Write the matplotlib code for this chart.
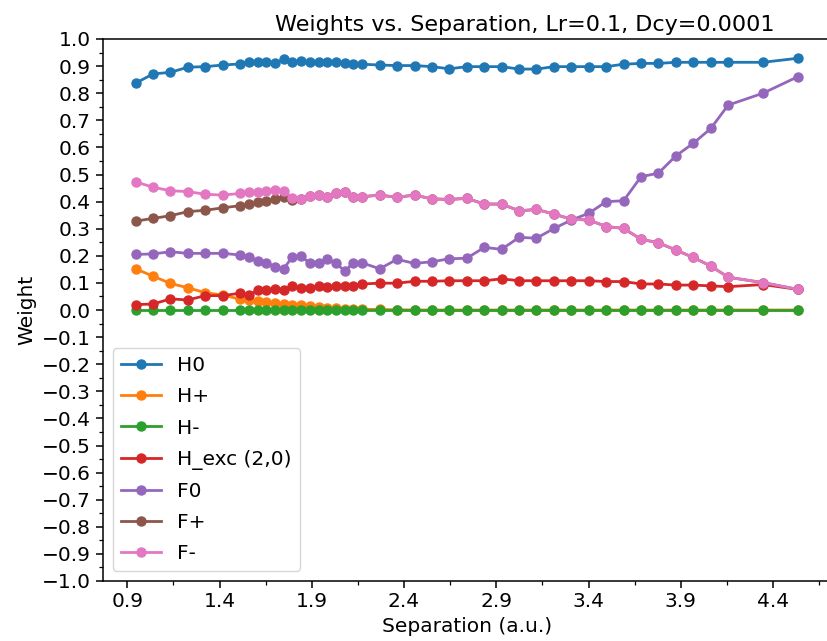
import matplotlib
matplotlib.use("Agg")
import matplotlib.pyplot as plt
from matplotlib.ticker import AutoMinorLocator

# separation in bohr
separation = [0.945, 1.039, 1.134, 1.228, 1.323, 1.417, 1.512,
              1.559, 1.606, 1.654, 1.701, 1.748, 1.795, 1.842, 1.890, 1.937,
              1.984, 2.031, 2.079, 2.126, 2.173,
              2.268, 2.362, 2.457, 2.551, 2.646, 2.740, 2.835, 2.929, 3.024,
              3.118, 3.213, 3.307, 3.402, 3.496, 3.590, 3.685, 3.779, 3.874,
              3.968, 4.063, 4.157, 4.346, 4.535]

w_H0 = [0.837, 0.871, 0.877, 0.896, 0.898, 0.904, 0.908,
        0.916, 0.914, 0.916, 0.910, 0.925, 0.914, 0.920, 0.916, 0.914,
        0.916, 0.914, 0.910, 0.907, 0.907,
        0.904, 0.902, 0.902, 0.898, 0.890, 0.898, 0.898, 0.898, 0.889,
        0.889, 0.898, 0.898, 0.898, 0.898, 0.907, 0.910, 0.910, 0.914,
        0.914, 0.914, 0.914, 0.914, 0.929]

w_Hp = [0.152, 0.125, 0.098, 0.082, 0.064, 0.055, 0.040,
        0.036, 0.032, 0.029, 0.026, 0.023, 0.020, 0.017, 0.014, 0.011,
        0.009, 0.007, 0.005, 0.004, 0.003,
        0.002, 0.001, 0.0, 0.0, 0.0, 0.0, 0.0, 0.0, 0.0,
        0.0, 0.0, 0.0, 0.0, 0.0, 0.0, 0.0, 0.0, 0.0,
        0.0, 0.0, 0.0, 0.0, 0.0]

w_Hm = [0.0] * len(separation)

w_Hexc = [0.020, 0.022, 0.041, 0.037, 0.053, 0.053, 0.062,
          0.055, 0.072, 0.072, 0.078, 0.074, 0.087, 0.080, 0.080, 0.090,
          0.084, 0.087, 0.090, 0.090, 0.096,
          0.099, 0.099, 0.106, 0.106, 0.108, 0.108, 0.108, 0.115, 0.108,
          0.108, 0.108, 0.108, 0.108, 0.105, 0.105, 0.096, 0.096, 0.092,
          0.092, 0.089, 0.086, 0.094, 0.076]

w_F0 = [0.205, 0.207, 0.215, 0.209, 0.209, 0.209, 0.203,
        0.197, 0.180, 0.172, 0.160, 0.152, 0.197, 0.199, 0.172, 0.172,
        0.187, 0.172, 0.144, 0.174, 0.174,
        0.152, 0.187, 0.172, 0.178, 0.189, 0.191, 0.231, 0.224, 0.268,
        0.265, 0.301, 0.332, 0.357, 0.400, 0.403, 0.492, 0.505, 0.569,
        0.615, 0.670, 0.756, 0.800, 0.861]

w_Fp = [0.328, 0.338, 0.348, 0.363, 0.368, 0.377, 0.385,
        0.390, 0.397, 0.402, 0.410, 0.418, 0.405, 0.410, 0.422, 0.424,
        0.418, 0.430, 0.437, 0.418, 0.418,
        0.424, 0.416, 0.424, 0.410, 0.408, 0.412, 0.391, 0.391, 0.366,
        0.371, 0.354, 0.335, 0.332, 0.308, 0.301, 0.261, 0.248, 0.221,
        0.194, 0.162, 0.121, 0.101, 0.076]

w_Fm = [0.473, 0.453, 0.440, 0.437, 0.427, 0.424, 0.430,
        0.434, 0.437, 0.439, 0.443, 0.439, 0.412, 0.410, 0.422, 0.424,
        0.418, 0.430, 0.437, 0.418, 0.418,
        0.424, 0.416, 0.424, 0.410, 0.408, 0.412, 0.391, 0.391, 0.366,
        0.371, 0.354, 0.335, 0.332, 0.308, 0.301, 0.261, 0.248, 0.221,
        0.194, 0.162, 0.121, 0.101, 0.076]

series = [("H0", w_H0), ("H+", w_Hp), ("H-", w_Hm), ("H_exc (2,0)", w_Hexc),
          ("F0", w_F0), ("F+", w_Fp), ("F-", w_Fm)]

x_ticks = [0.9, 1.4, 1.9, 2.4, 2.9, 3.4, 3.9, 4.4]
y_ticks = [round(-1.0 + 0.1 * i, 1) for i in range(21)]

plt.rcParams['font.size'] = 14.5
fig = plt.figure(figsize=(8.27, 6.41), dpi=100)
ax = fig.add_axes([102.5 / 827, 60 / 641, 728.5 / 827, 542 / 641])

for name, w in series:
    ax.plot(separation, w, 'o-', label=name, linewidth=2.0, markersize=6.5)

ax.set_ylim(-1.0, 1.0)
ax.set_xticks(x_ticks)
ax.set_yticks(y_ticks)
ax.xaxis.set_minor_locator(AutoMinorLocator(2))
ax.yaxis.set_minor_locator(AutoMinorLocator(2))
ax.tick_params(which='major', length=4.7, width=1.1)
ax.tick_params(which='minor', length=2.7, width=0.9)
for s in ax.spines.values():
    s.set_linewidth(1.1)

ax.set_xlabel('Separation (a.u.)')
ax.set_ylabel('Weight')
ax.set_title('Weights vs. Separation, Lr=0.1, Dcy=0.0001', fontsize=16, x=0.58)
ax.legend(loc='lower left', labelspacing=0.6)

fig.savefig('out.png', dpi=100)
